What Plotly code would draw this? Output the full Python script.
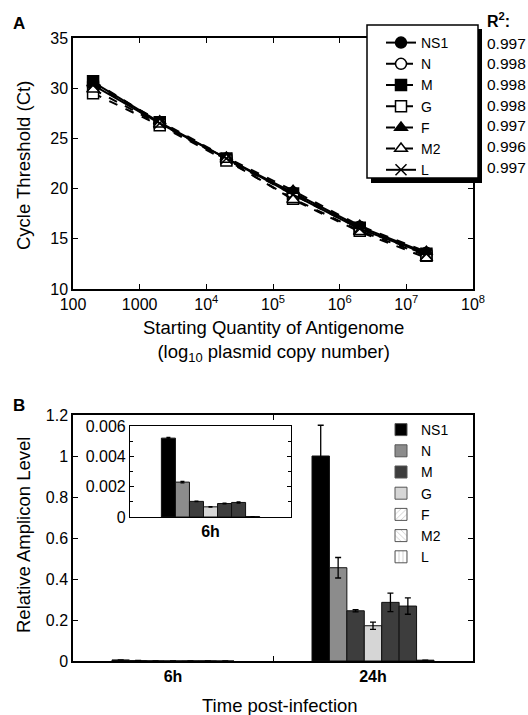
import plotly.graph_objects as go

W, H = 528, 715
def px(x): return x / W
def py(y): return 1 - y / H

FONT = "Liberation Sans, Arial, Helvetica, sans-serif"

# ---------------- Panel A data ----------------
copies = [2e2, 2e3, 2e4, 2e5, 2e6, 2e7]
genes = ["NS1", "N", "M", "G", "F", "M2", "L"]
ct_NS1 = [30.6, 26.6, 23.0, 19.6, 16.2, 13.6]
ct_N   = [30.4, 26.5, 22.9, 19.4, 16.0, 13.4]
ct_M   = [30.7, 26.6, 23.0, 19.5, 16.1, 13.5]
ct_G   = [29.5, 26.3, 22.8, 19.0, 15.8, 13.3]
ct_F   = [30.5, 26.7, 23.1, 19.8, 16.3, 13.7]
ct_M2  = [29.9, 26.4, 22.9, 18.9, 15.7, 13.1]
ct_L   = [30.3, 26.5, 23.0, 19.4, 16.0, 13.5]
r2_values = ["0.997", "0.998", "0.998", "0.998", "0.997", "0.996", "0.997"]
x_tickvals = [1e2, 1e3, 1e4, 1e5, 1e6, 1e7, 1e8]
x_ticktext = ["100", "1000", "10<sup>4</sup>", "10<sup>5</sup>", "10<sup>6</sup>", "10<sup>7</sup>", "10<sup>8</sup>"]

# ---------------- Panel B data ----------------
times = ["6h", "24h"]
rel_6h  = [0.0052, 0.0023, 0.00103, 0.00067, 0.00089, 0.00096, 0.00003]
err_6h  = [0.00005, 0.00005, 0.00002, 0.00002, 0.00003, 0.00004, 0.0]
rel_24h = [1.0, 0.455, 0.245, 0.172, 0.286, 0.268, 0.004]
err_24h = [0.15, 0.05, 0.005, 0.018, 0.045, 0.04, 0.0]

ct_series = [ct_NS1, ct_N, ct_M, ct_G, ct_F, ct_M2, ct_L]
line_dash = ["solid", "dash", "dash", "dash", "dash", "dash", "solid"]
symbols = ["circle", "circle", "square", "square", "triangle-up", "triangle-up", "x-thin"]
sym_fill = ["black", "white", "black", "white", "black", "white", "black"]

bar_colors = ["#000000", "#8c8c8c", "#3d3d3d", "#d6d6d6", "#3d3d3d", "#3d3d3d", "#000000"]
leg_colors = ["#000000", "#8c8c8c", "#3d3d3d", "#d6d6d6", "white", "white", "white"]
leg_patterns = ["", "", "", "", "/", "\\", "|"]

fig = go.Figure()

for g, ys, dsh, sym, fc in zip(genes, ct_series, line_dash, symbols, sym_fill):
    fig.add_trace(go.Scatter(
        x=copies, y=ys, name=g, mode="lines+markers",
        line=dict(color="black", width=2, dash=dsh),
        marker=dict(symbol=sym, size=11, color=fc,
                    line=dict(color="black", width=1.5)),
        xaxis="x", yaxis="y", legend="legend"))

for i, g in enumerate(genes):
    fig.add_trace(go.Bar(
        x=times, y=[rel_6h[i], rel_24h[i]], name=g, showlegend=False,
        marker=dict(color=bar_colors[i], line=dict(color="#111", width=1)),
        error_y=dict(type="data", array=[err_6h[i], err_24h[i]], color="black",
                     thickness=1.3, width=3),
        xaxis="x2", yaxis="y2"))
    fig.add_trace(go.Bar(
        x=[times[0]], y=[rel_6h[i]], name=g, showlegend=False,
        marker=dict(color=bar_colors[i], line=dict(color="#111", width=1)),
        error_y=dict(type="data", array=[err_6h[i]], color="black",
                     thickness=1.3, width=2),
        xaxis="x3", yaxis="y3"))

for i, g in enumerate(genes):
    fig.add_trace(go.Bar(
        x=[g], y=[0], name=g, legend="legend2",
        marker=dict(color=leg_colors[i], line=dict(color="#555", width=1),
                    pattern=dict(shape=leg_patterns[i], fgcolor="#666",
                                 bgcolor="white", size=5, solidity=0.15)),
        xaxis="x4", yaxis="y4"))

axis_common = dict(showline=True, linecolor="black", linewidth=1.5, mirror="ticks",
                   ticks="inside", ticklen=5, tickwidth=1.3, tickcolor="black",
                   showgrid=False, zeroline=False, automargin=False,
                   tickfont=dict(family=FONT, size=16, color="black"))

fig.update_layout(
    width=W, height=H, margin=dict(l=0, r=0, t=0, b=0, autoexpand=False),
    paper_bgcolor="white", plot_bgcolor="white",
    barmode="group", bargap=0.39, bargroupgap=0,
    font=dict(family=FONT, color="black"),
    xaxis=dict(axis_common, type="log", range=[2, 8], tickvals=x_tickvals,
               ticktext=x_ticktext, domain=[px(73), px(473)], anchor="y"),
    yaxis=dict(axis_common, range=[10, 35], tickvals=[10, 15, 20, 25, 30, 35],
               domain=[py(289), py(38)], anchor="x"),
    xaxis2=dict(axis_common, type="category", categoryorder="array", categoryarray=times,
                range=[-0.5, 1.5], tickson="boundaries", domain=[px(73), px(473)], anchor="y2",
                tickfont=dict(family=FONT, size=16, color="black", weight="bold")),
    yaxis2=dict(axis_common, range=[0, 1.2], tickvals=[0, 0.2, 0.4, 0.6, 0.8, 1.0, 1.2],
                ticktext=["0", "0.2", "0.4", "0.6", "0.8", "1", "1.2"],
                domain=[py(661), py(415)], anchor="x2"),
    xaxis3=dict(axis_common, type="category", range=[-0.5, 0.5], ticks="",
                domain=[px(130), px(291)], anchor="y3", linewidth=1.2,
                tickfont=dict(family=FONT, size=16, color="black", weight="bold")),
    yaxis3=dict(axis_common, range=[0, 0.006], tickvals=[0, 0.002, 0.004, 0.006],
                ticktext=["0", "0.002", "0.004", "0.006"], linewidth=1.2, ticklen=4,
                minor=dict(dtick=0.001, ticks="inside", ticklen=3, tickcolor="black"),
                domain=[py(517), py(426)], anchor="x3"),
    xaxis4=dict(visible=False, domain=[0, 0.01], anchor="y4", automargin=False),
    yaxis4=dict(visible=False, range=[1, 2], domain=[0, 0.01], anchor="x4", automargin=False),
    legend=dict(x=px(381), y=py(27), xanchor="left", yanchor="top",
                bgcolor="rgba(0,0,0,0)", borderwidth=0,
                font=dict(family=FONT, size=14, color="black"), tracegroupgap=0),
    legend2=dict(x=px(381), y=py(414), xanchor="left", yanchor="top",
                 bgcolor="rgba(0,0,0,0)", borderwidth=0,
                 font=dict(family=FONT, size=14, color="black"), tracegroupgap=0),
)

fig.add_shape(type="rect", xref="paper", yref="paper", layer="above",
              x0=px(371), x1=px(482), y0=py(183), y1=py(29),
              fillcolor="black", line=dict(width=0))
fig.add_shape(type="rect", xref="paper", yref="paper", layer="above",
              x0=px(367), x1=px(478), y0=py(178), y1=py(25),
              fillcolor="white", line=dict(color="black", width=1.5))

ann = []
ann.append(dict(text="<b>A</b>", x=px(19), y=py(24), font=dict(size=17)))
ann.append(dict(text="<b>B</b>", x=px(19), y=py(405), font=dict(size=17)))
ann.append(dict(text="<b>R<sup>2</sup>:</b>", x=px(485), y=py(20), xanchor="left", font=dict(size=16)))
for k, r in enumerate(r2_values):
    ann.append(dict(text=r, x=px(485), y=py(43 + k * 20.7), xanchor="left", font=dict(size=15.5)))
ann.append(dict(text="Cycle Threshold (Ct)", x=px(23), y=py(166), textangle=-90, font=dict(size=18.5)))
ann.append(dict(text="Starting Quantity of Antigenome<br>(log<sub>10</sub> plasmid copy number)",
                x=px(273), y=py(341), font=dict(size=18.5)))
ann.append(dict(text="Relative Amplicon Level", x=px(23), y=py(535), textangle=-90, font=dict(size=18.5)))
ann.append(dict(text="Time post-infection", x=px(280), y=py(705), font=dict(size=18.5)))
for a in ann:
    a.update(xref="paper", yref="paper", showarrow=False, yanchor="middle")
    a.setdefault("xanchor", "center")
    a["font"] = dict(family=FONT, color="black", **a["font"])
    fig.add_annotation(**a)

fig.write_html("out.html", config={"displayModeBar": False},
               post_script="document.body.style.margin='0';document.body.style.overflow='hidden';")
